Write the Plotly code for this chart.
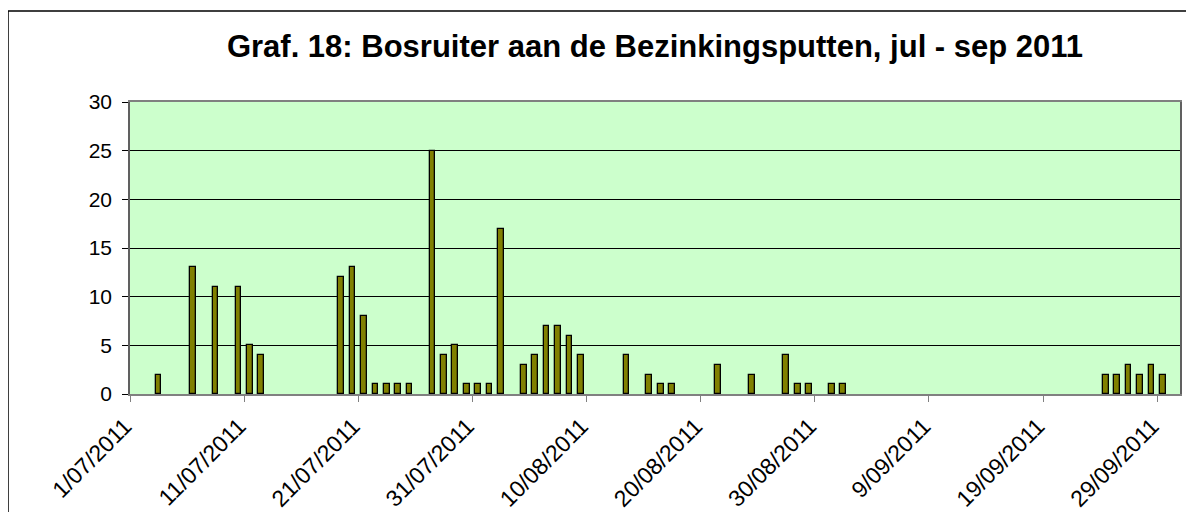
import plotly.graph_objects as go

# Data
dates = [
    "2011-07-03", "2011-07-06", "2011-07-08", "2011-07-10", "2011-07-11", "2011-07-12",
    "2011-07-19", "2011-07-20", "2011-07-21", "2011-07-22", "2011-07-23", "2011-07-24",
    "2011-07-25", "2011-07-27", "2011-07-28", "2011-07-29", "2011-07-30", "2011-07-31",
    "2011-08-01", "2011-08-02", "2011-08-04", "2011-08-05", "2011-08-06", "2011-08-07",
    "2011-08-08", "2011-08-09", "2011-08-13", "2011-08-15", "2011-08-16", "2011-08-17",
    "2011-08-21", "2011-08-24", "2011-08-27", "2011-08-28", "2011-08-29", "2011-08-31",
    "2011-09-01", "2011-09-24", "2011-09-25", "2011-09-26", "2011-09-27", "2011-09-28",
    "2011-09-29",
]
counts = [
    2, 13, 11, 11, 5, 4,
    12, 13, 8, 1, 1, 1,
    1, 25, 4, 5, 1, 1,
    1, 17, 3, 4, 7, 7,
    6, 4, 4, 2, 1, 1,
    3, 2, 4, 1, 1, 1,
    1, 2, 2, 3, 2, 3,
    2,
]
tick_dates = ["2011-07-01", "2011-07-11", "2011-07-21", "2011-07-31", "2011-08-10",
              "2011-08-20", "2011-08-30", "2011-09-09", "2011-09-19", "2011-09-29"]
tick_labels = ["1/07/2011", "11/07/2011", "21/07/2011", "31/07/2011", "10/08/2011",
               "20/08/2011", "30/08/2011", "9/09/2011", "19/09/2011", "29/09/2011"]
y_ticks = [0, 5, 10, 15, 20, 25, 30]
title_text = "Graf. 18: Bosruiter aan de Bezinkingsputten, jul - sep 2011"

DAY_MS = 86400000
FONT = "Liberation Sans, Arial, sans-serif"

fig = go.Figure()
fig.add_trace(go.Bar(
    x=dates, y=counts,
    xperiod=DAY_MS, xperiodalignment="middle",
    width=0.5 * DAY_MS,
    marker=dict(color="#808000", line=dict(color="#000000", width=1.3)),
    showlegend=False,
))

# page body has an 8px margin, so the figure starts at (8, 8)
OFF = 8
W, H = 1194 - OFF, 512 - OFF
ml, mr, mt, mb = 130 - OFF, 14, 102 - OFF, 118
pw, ph = W - ml - mr, H - mt - mb

fig.update_layout(
    width=W, height=H,
    margin=dict(l=ml, r=mr, t=mt, b=mb, autoexpand=False),
    paper_bgcolor="white",
    plot_bgcolor="#CCFFCC",
    font=dict(family=FONT, color="black", size=21),
    title=dict(text="<b>" + title_text + "</b>", x=(ml + pw / 2) / W, xanchor="center",
               y=1 - (46 - OFF) / H, yanchor="middle", automargin=False,
               font=dict(family=FONT, size=31, color="black")),
    bargap=0,
    shapes=[dict(type="rect", xref="paper", yref="paper",
                 x0=(8 - 130) / pw, x1=(1204 - 130) / pw,
                 y0=-(530 - 394) / ph, y1=(394 - 11) / ph,
                 line=dict(color="black", width=1.5), fillcolor="rgba(0,0,0,0)",
                 layer="below")],
)

fig.update_xaxes(
    type="date",
    range=["2011-07-01", "2011-10-01"],
    tickvals=tick_dates, ticktext=tick_labels,
    tickangle=-45, automargin=False,
    ticklabelstandoff=2, ticklabelshift=-5,
    ticks="outside", ticklen=6, tickcolor="#808080", tickwidth=1,
    showgrid=False,
    showline=True, linecolor="#808080", linewidth=1.5, mirror=True,
    tickfont=dict(size=23, family=FONT, color="black"),
)
fig.update_yaxes(
    range=[0, 30],
    tickvals=y_ticks, automargin=False,
    ticklabelstandoff=6,
    ticks="outside", ticklen=6, tickcolor="black", tickwidth=1,
    showgrid=True, gridcolor="black", gridwidth=1,
    showline=True, linecolor="#606060", linewidth=1.5, mirror=True,
    zeroline=False,
    tickfont=dict(size=21, family=FONT, color="black"),
)

fig.write_html("out.html")
